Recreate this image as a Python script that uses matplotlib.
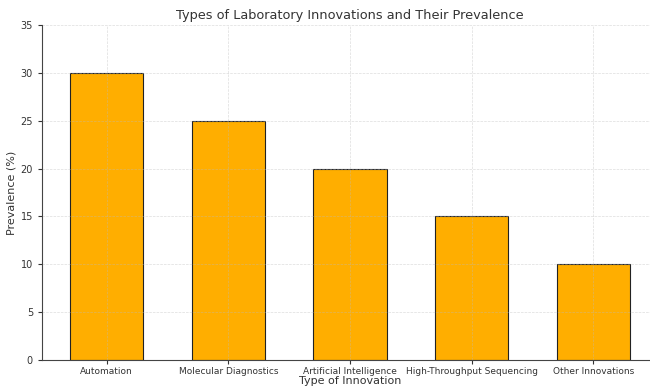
import matplotlib.pyplot as plt

categories = ['Automation', 'Molecular Diagnostics', 'Artificial Intelligence',
              'High-Throughput Sequencing', 'Other Innovations']
prevalence = [30, 25, 20, 15, 10]

fig = plt.figure(figsize=(6.5, 3.87), dpi=100)
# axes extend a little past the right edge, like the cropped original
ax = fig.add_axes([42 / 650, 1 - 360 / 387, 616 / 650, 335 / 387])

ax.bar(categories, prevalence, width=0.6, color='#FFAE00', edgecolor='#222222', linewidth=0.8)
ax.set_ylim(0, 35)
ax.set_xlim(-0.53, 4.53)

ax.grid(True, linestyle='--', color='#bbbbbb', linewidth=0.5, alpha=0.5)
for side in ['top', 'right']:
    ax.spines[side].set_visible(False)
for side in ['left', 'bottom']:
    ax.spines[side].set_color('#444444')

ax.tick_params(axis='x', labelsize=6.5, colors='#333333', length=3, pad=2)
ax.tick_params(axis='y', labelsize=7, colors='#333333', length=3)
ax.set_title('Types of Laboratory Innovations and Their Prevalence', fontsize=9.3, color='#333333', pad=4)
ax.set_xlabel('Type of Innovation', fontsize=8, color='#333333', labelpad=0)
ax.set_ylabel('Prevalence (%)', fontsize=8, color='#333333')
ax.yaxis.set_label_coords(-0.042, 0.5)

fig.savefig('out.png', dpi=100)
